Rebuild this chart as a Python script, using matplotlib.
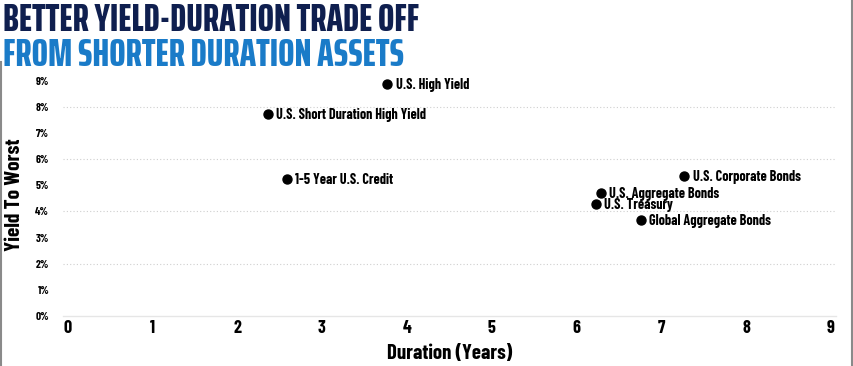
import matplotlib
matplotlib.use('Agg')
import matplotlib.pyplot as plt
from matplotlib.lines import Line2D

# Duration (years) vs yield to worst (%)
names = ['U.S. High Yield', 'U.S. Short Duration High Yield', '1-5 Year U.S. Credit',
         'U.S. Corporate Bonds', 'U.S. Aggregate Bonds', 'U.S. Treasury',
         'Global Aggregate Bonds']
duration = [3.77, 2.36, 2.59, 7.27, 6.29, 6.23, 6.76]
yield_to_worst = [8.89, 7.74, 5.25, 5.36, 4.71, 4.29, 3.68]

x_ticks = list(range(0, 10))
y_ticks = list(range(0, 10))

FONT = ['Barlow Condensed', 'DejaVu Sans']
TITLE_FONT = ['Saira ExtraCondensed', 'Barlow Condensed', 'DejaVu Sans']
plt.rcParams['font.family'] = FONT

fig = plt.figure(figsize=(8.54, 3.66), dpi=100)
ax = fig.add_axes([0.0738, 0.137, 0.9052, 0.663])

ax.scatter(duration, yield_to_worst, s=42, color='black', zorder=3)
for n, x, y in zip(names, duration, yield_to_worst):
    ax.annotate(n, (x, y), xytext=(6, -0.5), textcoords='offset points',
                va='center', ha='left', fontsize=10.2, fontweight='bold')

ax.set_xlim(-0.05, 9.06)
ax.set_ylim(0, 9.3)
ax.set_xticks(x_ticks)
ax.set_xticklabels([str(v) for v in x_ticks], fontsize=13, fontweight='bold')
ax.set_yticks(y_ticks)
ax.set_yticklabels(['%d%%' % v for v in y_ticks], fontsize=8, fontweight='bold')
ax.tick_params(length=0)
ax.tick_params(axis='x', pad=3)
ax.tick_params(axis='y', pad=10)

for v in [2, 4, 6, 8]:
    ax.axhline(v, color='#cfcfcf', lw=0.8, ls=(0, (1, 2)), zorder=1)

for s in ['top', 'right', 'left']:
    ax.spines[s].set_visible(False)
ax.spines['bottom'].set_color('#e6e6e6')
ax.spines['bottom'].set_linewidth(1)

ax.set_xlabel('Duration (Years)', fontsize=15, fontweight='bold', labelpad=5)
ax.set_ylabel('Yield To Worst', fontsize=15.5, fontweight='bold', labelpad=8)

fig.text(0.003, 0.994, 'BETTER YIELD-DURATION TRADE OFF', color='#0f1f4f',
         fontsize=28, fontweight=800, va='top', ha='left', family=TITLE_FONT)
fig.text(0.003, 0.900, 'FROM SHORTER DURATION ASSETS', color='#1a7bc8',
         fontsize=28, fontweight=800, va='top', ha='left', family=TITLE_FONT)

# thin grey frame lines at the left and right edges
fig.add_artist(Line2D([0.001, 0.001], [0.0, 0.83], color='#8a8a8a', lw=1.5,
                      transform=fig.transFigure))
fig.add_artist(Line2D([0.998, 0.998], [0.0, 1.0], color='#8a8a8a', lw=1.5,
                      transform=fig.transFigure))

fig.savefig('out.png', dpi=100)
